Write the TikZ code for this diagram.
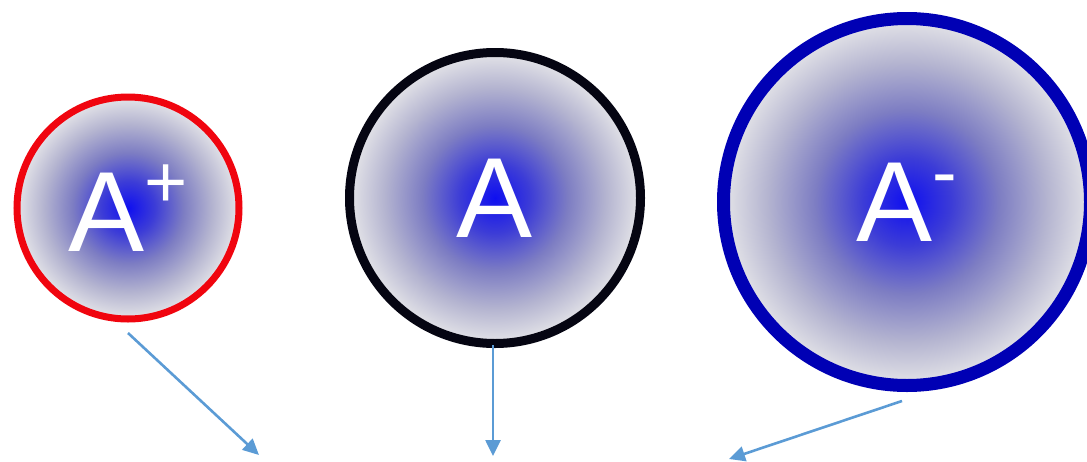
\documentclass[tikz,border=0pt]{standalone}
\usepackage{fontspec}
\setmainfont{Liberation Sans}
\usepackage{xcolor}
\definecolor{ionred}{RGB}{240, 5, 15}
\definecolor{ionblack}{RGB}{5, 5, 18}
\definecolor{iondarkblue}{RGB}{0, 0, 180}
\definecolor{arrowblue}{RGB}{91, 155, 213}
\definecolor{ioncore}{RGB}{15, 15, 240}
\definecolor{ioninner}{RGB}{60, 60, 215}
\definecolor{ionmid}{RGB}{125, 125, 195}
\definecolor{ionouter}{RGB}{180, 180, 208}
\definecolor{ionedge}{RGB}{228, 228, 232}
\usepackage{tikz}
\usetikzlibrary{arrows.meta, positioning}
\pgfdeclareradialshading{ionglow}{\pgfpoint{0bp}{0bp}}{color(0bp)=(ioncore); color(6bp)=(ioninner); color(12.5bp)=(ionmid); color(19bp)=(ionouter); color(25bp)=(ionedge); color(50bp)=(ionedge)}
\newcommand{\ioncharge}[1]{\raisebox{0.38em}{\fontsize{74}{74}\selectfont #1}}

\begin{document}
\begin{tikzpicture}[x=1pt, y=-1pt,
        ion/.style={circle, shading=ionglow, text=white, inner sep=0pt, font=\fontsize{114}{114}\selectfont},
        link/.style={draw=arrowblue, line width=2.6pt, -{Triangle[length=16pt, width=15pt]}}]
        \useasboundingbox (0,0) rectangle (1087,461);

        \node [ion, draw=ionred, line width=7pt, minimum size=222pt] (cation) at (128,208) {A\ioncharge{+}};
        \node [ion, draw=ionblack, line width=9pt, minimum size=291pt] (atom) at (495,198) {A};
        \node [ion, draw=iondarkblue, line width=13pt, minimum size=367pt] (anion) at (907,202) {A\ioncharge{-}};

        \coordinate (cation end) at (259,455);
        \coordinate (atom end) at (493,456);
        \coordinate (anion end) at (729,459);

        \path [link] ([yshift=-10.5pt]cation.south) -- (cation end);
        \path [link] ([xshift=-2pt, yshift=3pt]atom.south) -- (atom end);
        \path [link] ([xshift=-5pt, yshift=-9pt]anion.south) -- (anion end);
    \end{tikzpicture}
\end{document}
